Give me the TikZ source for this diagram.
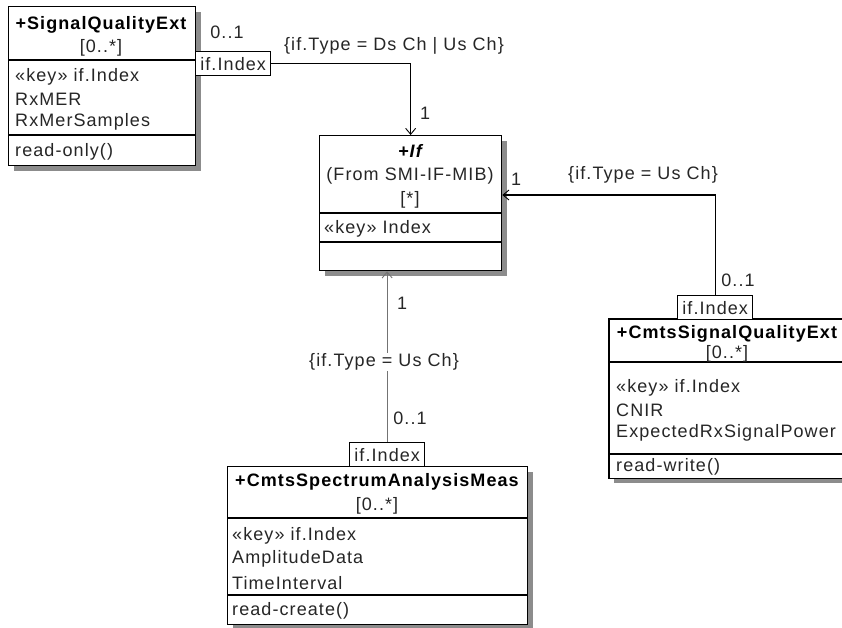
\documentclass[tikz,border=0pt]{standalone}
\usepackage{fontspec}
\setmainfont{Liberation Sans}[LetterSpace=6]
\usetikzlibrary{arrows.meta,shadows}
\newcommand\fsz{\fontsize{18}{21}\selectfont}
\begin{document}
\begin{tikzpicture}[x=1pt,y=-1pt,
  umlbox/.style={draw, line width=1.3pt, fill=white, anchor=north west, inner sep=0,
    drop shadow={shadow xshift=5pt, shadow yshift=-5pt, fill=black!45, opacity=1}},
  openbox/.style={fill=white, anchor=north west, inner sep=0,
    drop shadow={shadow xshift=5pt, shadow yshift=-5pt, fill=black!45, opacity=1}},
  qual/.style={draw, line width=1.3pt, fill=white, anchor=north west, inner sep=0,
    minimum width=75pt, minimum height=24pt},
  divider/.style={line width=1.3pt},
  conn/.style={line width=1.2pt, -{Straight Barb[length=6pt,width=10pt,line width=0.9pt]}},
  txt/.style={inner sep=0, anchor=west, font=\fsz, text=black!85},
  ctxt/.style={inner sep=0, font=\fsz, text=black!85},
  ttl/.style={inner sep=0, font=\fsz\bfseries, text=black},
  lbl/.style={inner sep=1pt, font=\fsz, text=black!85}]
\useasboundingbox (0,0) rectangle (842,627);

% ---- SignalQualityExt
\node[umlbox, minimum width=187pt, minimum height=159pt] (A) at (8,6) {};
\draw[divider] (A.west |- 0,60) -- (A.east |- 0,60);
\draw[divider] (A.west |- 0,135) -- (A.east |- 0,135);
\node[ttl] (At) at (101,25) {+SignalQualityExt};
\node[ctxt] (Am) at (101,48) {[0..*]};
\node[txt] (A1) at (15,77) {«key» if.Index};
\node[txt] (A2) at (15,99) {RxMER};
\node[txt] (A3) at (15,122) {RxMerSamples};
\node[txt] (A4) at (15,152) {read-only()};
\node[qual] (qA) at (195,51) {};
\node[ctxt] (qAt) at (qA.center) {if.Index};

% ---- If
\node[umlbox, minimum width=182pt, minimum height=135pt] (IF) at (319,135) {};
\draw[divider] (IF.west |- 0,213) -- (IF.east |- 0,213);
\draw[divider] (IF.west |- 0,242) -- (IF.east |- 0,242);
\node[ttl, font=\fsz\bfseries\itshape] (IFt) at (410,151) {+If};
\node[ctxt] (IFs) at (410,176) {(From SMI-IF-MIB)};
\node[ctxt] (IFm) at (410,200) {[*]};
\node[txt] (IF1) at (324,229) {«key» Index};

% ---- CmtsSignalQualityExt (its right side runs off the page)
\node[openbox, minimum width=260pt, minimum height=159pt] (C) at (609,319) {};
\draw[divider] (C.north east) -- (C.north west) -- (C.south west) -- (C.south east);
\draw[divider] (C.west |- 0,362) -- (C.east |- 0,362);
\draw[divider] (C.west |- 0,454) -- (C.east |- 0,454);
\node[ttl] (Ct) at (727,334) {+CmtsSignalQualityExt};
\node[ctxt] (Cm) at (727,354) {[0..*]};
\node[txt] (C1) at (616,388) {«key» if.Index};
\node[txt] (C2) at (616,410) {CNIR};
\node[txt] (C3) at (616,433) {ExpectedRxSignalPower};
\node[txt] (C4) at (616,467) {read-write()};
\node[qual] (qC) at (677,295) {};
\node[ctxt] (qCt) at (qC.center) {if.Index};

% ---- CmtsSpectrumAnalysisMeas
\node[umlbox, minimum width=300pt, minimum height=158pt] (D) at (227,466) {};
\draw[divider] (D.west |- 0,518) -- (D.east |- 0,518);
\draw[divider] (D.west |- 0,595) -- (D.east |- 0,595);
\node[ttl] (Dt) at (377,482) {+CmtsSpectrumAnalysisMeas};
\node[ctxt] (Dm) at (377,506) {[0..*]};
\node[txt] (D1) at (232,536) {«key» if.Index};
\node[txt] (D2) at (232,559) {AmplitudeData};
\node[txt] (D3) at (232,583) {TimeInterval};
\node[txt] (D4) at (232,611) {read-create()};
\node[qual] (qD) at (349,442) {};
\node[ctxt] (qDt) at (qD.center) {if.Index};

% ---- connectors
\draw[conn] (qA.east) -| (IF.north);
\coordinate (IFr) at (IF.east |- 0,195);
\draw[conn] (qC.north) |- (IFr);
\draw[conn, black!55] (qD.north) -- (qD.north |- IF.south);

% ---- labels
\node[lbl] (l1) at (227,32) {0..1};
\node[lbl] (l2) at (394,46) {\{if.Type = Ds Ch | Us Ch\}};
\node[lbl] (l3) at (425,113) {1};
\node[lbl] (l4) at (643,175) {\{if.Type = Us Ch\}};
\node[lbl] (l5) at (516,179) {1};
\node[lbl] (l6) at (738,280) {0..1};
\node[lbl] (l7) at (402,303) {1};
\node[lbl, fill=white] (l8) at (384,362) {\{if.Type = Us Ch\}};
\node[lbl] (l9) at (410,418) {0..1};
\end{tikzpicture}
\end{document}
